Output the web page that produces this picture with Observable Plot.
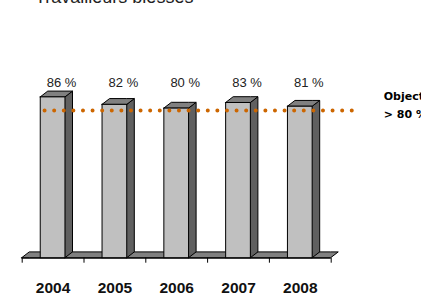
<!DOCTYPE html>
<html>
<head>
<meta charset="utf-8">
<script src="https://cdn.jsdelivr.net/npm/d3@7"></script>
<script src="https://cdn.jsdelivr.net/npm/@observablehq/plot@0.6"></script>
<style>
  html, body { margin: 0; padding: 0; background: #fff; }
  #wrap { position: relative; width: 421px; height: 297px; overflow: hidden; }
  #title { position: absolute; left: 35px; top: -12.4px; font: 18px/18px "Liberation Sans", Arial, sans-serif; color: #222; white-space: nowrap; z-index: 2; }
  #chart { position: absolute; left: 0; top: 0; }
</style>
</head>
<body>
<div id="wrap">
  <div id="title">Travailleurs blessés</div>
  <div id="chart"></div>
</div>
<script>
// ---- data ----
const years = ["2004", "2005", "2006", "2007", "2008"];
const values = [86, 82, 80, 83, 81];
const valueLabels = ["86 %", "82 %", "80 %", "83 %", "81 %"];
const target = 80;
const targetLabel = "Objectif\n> 80 %";

// ---- geometry helpers (3D look) ----
const half = 0.2;     // half width of bar front (x units)
const ddx = 0.122;    // depth offset in x units
const ddy = 3.1;      // depth offset in y units (%)

const bars = years.map((yr, i) => ({year: yr, i, v: values[i], label: valueLabels[i]}));

const sideFaces = bars.flatMap(b => [
  {year: b.year, x: b.i + half, y1: 0, y2: b.v},
  {year: b.year, x: b.i + half + ddx, y1: ddy, y2: b.v + ddy}
]);
const topFaces = bars.flatMap(b => [
  {year: b.year, x: b.i - half, y1: b.v, y2: b.v},
  {year: b.year, x: b.i - half + ddx, y1: b.v, y2: b.v + ddy},
  {year: b.year, x: b.i + half, y1: b.v, y2: b.v + ddy},
  {year: b.year, x: b.i + half + ddx, y1: b.v + ddy, y2: b.v + ddy}
]);
const xStart = -0.5, xEnd = years.length - 0.5;
const floorFace = [
  {x: xStart, y1: 0, y2: 0},
  {x: xStart + ddx, y1: 0, y2: ddy},
  {x: xEnd, y1: 0, y2: ddy},
  {x: xEnd + ddx, y1: ddy, y2: ddy}
];
const boundaries = d3.range(years.length + 1).map(k => k - 0.5);

const font = '"Liberation Sans", Arial, sans-serif';

const chart = Plot.plot({
  width: 421,
  height: 297,
  marginLeft: 21.7,
  marginRight: 90.3,
  marginTop: 70.7,
  marginBottom: 39.3,
  style: {fontFamily: font, background: "transparent", overflow: "visible"},
  x: {domain: [xStart, xEnd], axis: null},
  y: {domain: [0, 100], axis: null},
  marks: [
    Plot.areaY(floorFace, {x: "x", y1: "y1", y2: "y2", fill: "#808080", stroke: "#000", strokeWidth: 1}),
    Plot.ruleY([0], {stroke: "#000", strokeWidth: 1}),
    Plot.axisX({ticks: boundaries, tickSize: 5, tickFormat: () => "", stroke: "#000"}),
    Plot.areaY(sideFaces, {x: "x", y1: "y1", y2: "y2", z: "year", fill: "#606060", stroke: "#000", strokeWidth: 1}),
    Plot.areaY(topFaces, {x: "x", y1: "y1", y2: "y2", z: "year", fill: "#808080", stroke: "#000", strokeWidth: 1}),
    Plot.rectY(bars, {x1: d => d.i - half, x2: d => d.i + half, y1: 0, y2: "v", fill: "#C0C0C0", stroke: "#000", strokeWidth: 1}),
    Plot.ruleY([target], {x1: -0.13, x2: 4.99, dy: 2, stroke: "#CC6600", strokeWidth: 4, strokeDasharray: "0 9.6", strokeLinecap: "round"}),
    Plot.text(bars, {x: "i", y: () => 91.4, text: "label", dx: 8.5, lineAnchor: "bottom", fontSize: 13, fill: "#222"}),
    Plot.text(bars, {x: "i", y: 0, text: "year", dy: 34.4, lineAnchor: "bottom", fontSize: 15.5, fontWeight: "bold", fill: "#111"}),
    Plot.text([target], {frameAnchor: "right", y: d => d, text: () => targetLabel, dx: 52.5, dy: 9.4, textAnchor: "start", lineAnchor: "bottom", lineHeight: 1.6, fontSize: 11, fontWeight: "bold", fontFamily: '"DejaVu Sans", sans-serif', fill: "#000"})
  ]
});
document.getElementById("chart").appendChild(chart);
</script>
</body>
</html>
